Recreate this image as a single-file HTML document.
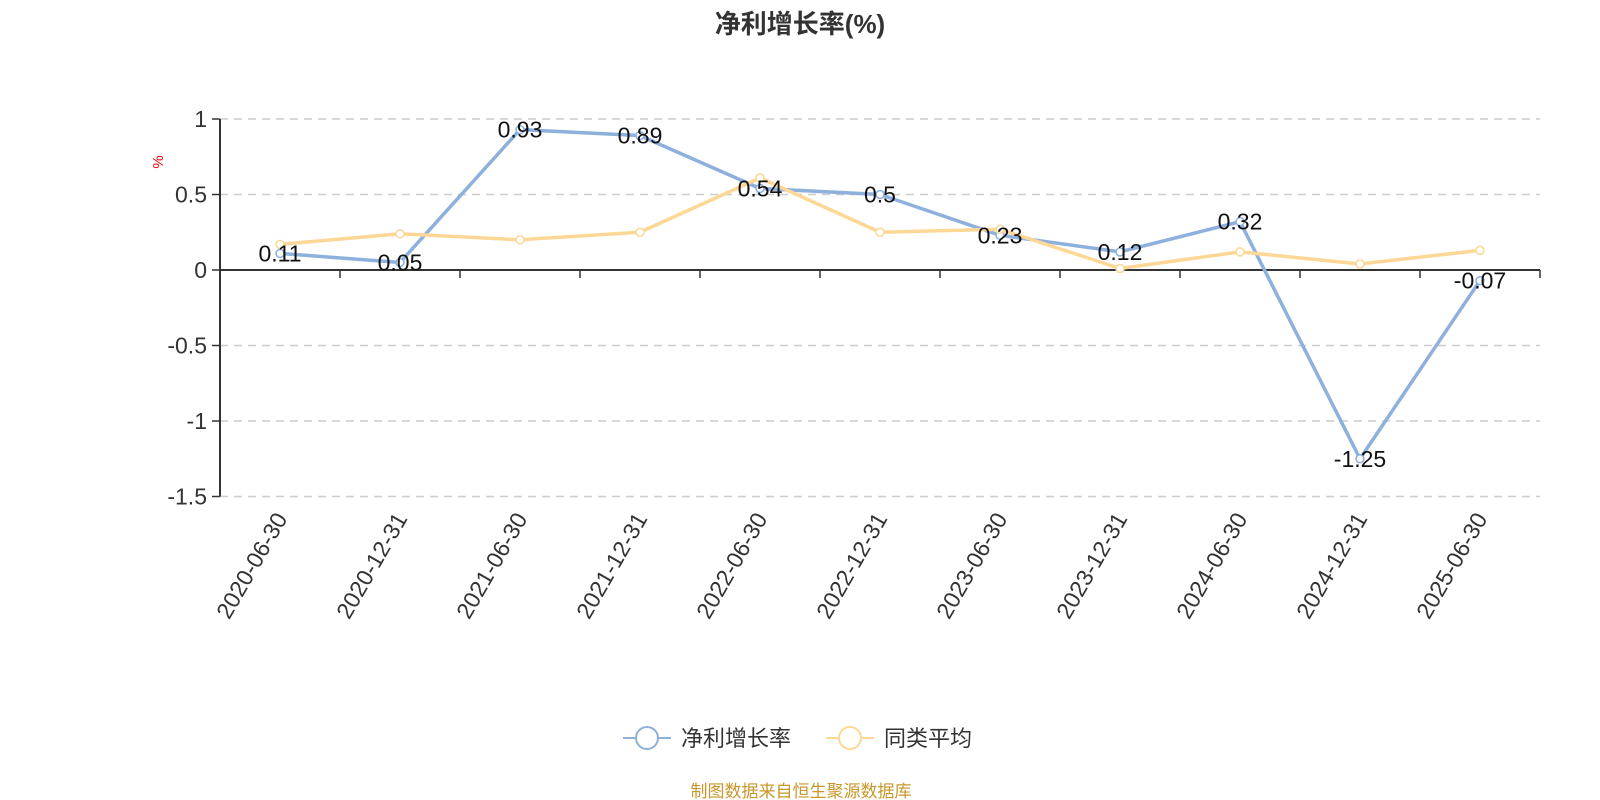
<!DOCTYPE html>
<html><head><meta charset="utf-8"><style>
body{margin:0;background:#fff;}
svg{display:block;font-family:"Liberation Sans","Noto Sans CJK SC",sans-serif;}
</style></head><body>
<svg id="c" width="1600" height="800"></svg>
<script>
const categories=["2020-06-30","2020-12-31","2021-06-30","2021-12-31","2022-06-30","2022-12-31","2023-06-30","2023-12-31","2024-06-30","2024-12-31","2025-06-30"];
const seriesNet=[0.11,0.05,0.93,0.89,0.54,0.5,0.23,0.12,0.32,-1.25,-0.07];
const seriesAvg=[0.17,0.24,0.20,0.25,0.61,0.25,0.27,0.01,0.12,0.04,0.13];
const yTicks=[1,0.5,0,-0.5,-1,-1.5];
const yTickLabels=["1","0.5","0","-0.5","-1","-1.5"];
const svg=document.getElementById('c');const NS="http://www.w3.org/2000/svg";
const L=220,R=1540,band=(R-L)/categories.length;
const y=v=>270-v*151, x=i=>L+band*(i+0.5);
function mk(t,a,txt){const e=document.createElementNS(NS,t);for(const k in a)e.setAttribute(k,a[k]);if(txt!==undefined)e.textContent=txt;svg.appendChild(e);return e;}
let e=mk('text',{x:800,y:33,'text-anchor':'middle','font-size':26,'font-weight':'bold',fill:'#333'},'净利增长率(%)');


e=mk('text',{x:0,y:0,transform:'translate(163,162) rotate(-90)','text-anchor':'middle','font-size':15,fill:'red'},'%');


yTicks.forEach((v,i)=>{
 if(v!==0){e=mk('line',{x1:L,x2:R,y1:y(v),y2:y(v),stroke:'#ccc','stroke-dasharray':'8,6','stroke-width':1.5});
 
 }
 e=mk('line',{x1:L-8,x2:L,y1:y(v),y2:y(v),stroke:'#333','stroke-width':1.5});
 
 
 e=mk('text',{x:L-13,y:y(v)+8,'text-anchor':'end','font-size':23,fill:'#333'},yTickLabels[i]);
 
 
});
e=mk('line',{x1:L,x2:L,y1:y(1),y2:y(-1.5),stroke:'#333','stroke-width':2});


e=mk('line',{x1:L,x2:R,y1:y(0),y2:y(0),stroke:'#333','stroke-width':2});


for(let i=0;i<=categories.length;i++){e=mk('line',{x1:L+band*i,x2:L+band*i,y1:y(0),y2:y(0)+8,stroke:'#333','stroke-width':1.5});
 
 }
categories.forEach((c,i)=>{e=mk('text',{x:0,y:0,transform:`translate(${x(i)+8},${y(-1.5)+22}) rotate(-60)`,'text-anchor':'end','font-size':23,fill:'#333'},c);
 
 });
function series(data,color,name){
 e=mk('polyline',{points:data.map((v,i)=>x(i)+','+y(v)).join(' '),fill:'none',stroke:color,'stroke-width':3.5});
 
 
 data.forEach((v,i)=>{e=mk('circle',{cx:x(i),cy:y(v),r:4,fill:'#fff',stroke:color,'stroke-width':1.5});
  
  });
}
series(seriesNet,'#8eb0dc','net-growth');
series(seriesAvg,'#fdd795','peer-average');
seriesNet.forEach((v,i)=>{e=mk('text',{x:x(i),y:y(v)+8,'text-anchor':'middle','font-size':23,fill:'#111'},String(v));
 
 });
[['净利增长率','#8eb0dc',623],['同类平均','#fdd795',826]].forEach(([t,c,lx])=>{
 const g=document.createElementNS(NS,'g');svg.appendChild(g);
 
 
 const l=document.createElementNS(NS,'line');[['x1',lx],['x2',lx+48],['y1',738],['y2',738],['stroke',c],['stroke-width',2]].forEach(a=>l.setAttribute(a[0],a[1]));g.appendChild(l);
 const ci=document.createElementNS(NS,'circle');[['cx',lx+24],['cy',738],['r',11],['fill','#fff'],['stroke',c],['stroke-width',2]].forEach(a=>ci.setAttribute(a[0],a[1]));g.appendChild(ci);
 const tx=document.createElementNS(NS,'text');[['x',lx+58],['y',746],['font-size',22],['fill','#333']].forEach(a=>tx.setAttribute(a[0],a[1]));tx.textContent=t;g.appendChild(tx);
});
e=mk('text',{x:801,y:797,'text-anchor':'middle','font-size':17,fill:'#c8962a'},'制图数据来自恒生聚源数据库');


</script>
</body></html>
